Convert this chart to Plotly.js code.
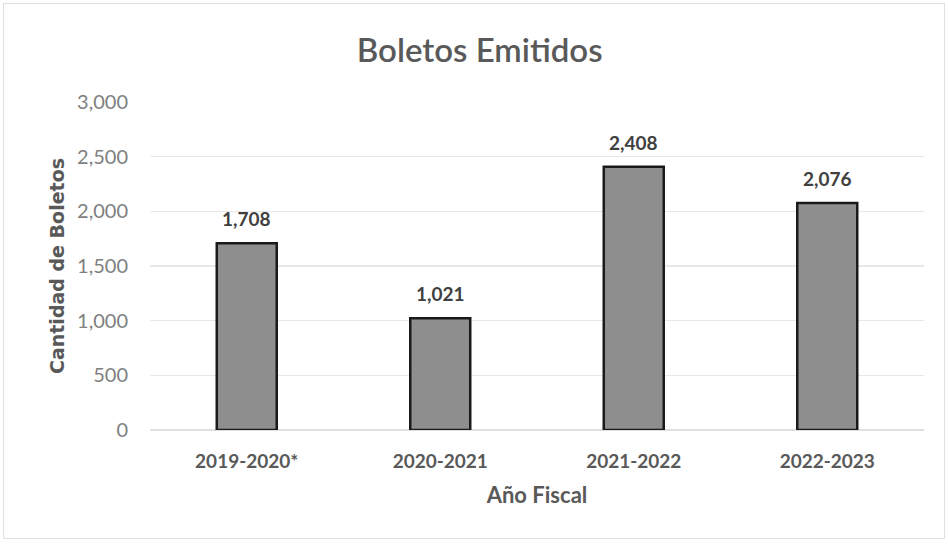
<!DOCTYPE html>
<html><head><meta charset="utf-8">
<script src="https://cdn.plot.ly/plotly-3.0.1.min.js"></script>
<style>
html,body{margin:0;padding:0;background:#fff;}
#wrap{position:relative;width:948px;height:544px;}
#chart{width:948px;height:544px;}
#frame{position:absolute;left:3px;top:3px;width:940px;height:534px;border:1px solid #e0e0e0;pointer-events:none;}
</style></head>
<body>
<div id="wrap"><div id="chart"></div><div id="frame"></div></div>
<script>
const categories = ["2019-2020*", "2020-2021", "2021-2022", "2022-2023"];
const values = [1708, 1021, 2408, 2076];
const yTicks = [0, 500, 1000, 1500, 2000, 2500, 3000];

const fmt = v => v.toLocaleString('en-US');

const trace = {
  type: 'bar',
  x: categories,
  y: values,
  marker: {color: '#8e8e8e', line: {color: '#1a1a1a', width: 2.5}},
  hoverinfo: 'skip'
};

const annotations = categories.map((c, i) => ({
  x: c, y: values[i], xref: 'x', yref: 'y',
  text: fmt(values[i]), showarrow: false, yanchor: 'bottom', yshift: 11,
  font: {family: 'Lato, sans-serif', size: 19, color: '#404040', weight: 'bold'}
}));

const layout = {
  width: 948, height: 544,
  margin: {l: 150, r: 24, t: 102, b: 114},
  paper_bgcolor: '#fff', plot_bgcolor: '#fff',
  title: {text: 'Boletos Emitidos', x: 0.506, xanchor: 'center', y: 0.908, yanchor: 'middle',
    font: {family: 'Lato, sans-serif', size: 33, color: '#595959', weight: 600}},
  bargap: 0.69,
  showlegend: false,
  xaxis: {
    type: 'category', showgrid: false, zeroline: false, showline: false, ticks: '',
    tickfont: {family: 'Lato, sans-serif', size: 19, color: '#595959', weight: 'bold'},
    ticklabelstandoff: 18,
    title: {text: 'Año Fiscal', standoff: 16, font: {family: 'Lato, sans-serif', size: 22, color: '#595959', weight: 'bold'}}
  },
  yaxis: {
    range: [0, 3000], tickvals: yTicks, ticktext: yTicks.map(fmt),
    showgrid: true, gridcolor: '#e8e8e8', gridwidth: 1.5, zeroline: true, zerolinecolor: '#e0e0e0', zerolinewidth: 1.5,
    showline: false, ticks: '',
    tickfont: {family: 'Lato, sans-serif', size: 20, color: '#808080'},
    ticklabelstandoff: 21,
    title: {text: 'Cantidad de Boletos', standoff: 7, font: {family: 'DejaVu Sans', size: 19, color: '#595959', weight: 'bold'}}
  },
  annotations: annotations
};

Plotly.newPlot('chart', [trace], layout, {displayModeBar: false, staticPlot: true});
</script>
</body></html>
